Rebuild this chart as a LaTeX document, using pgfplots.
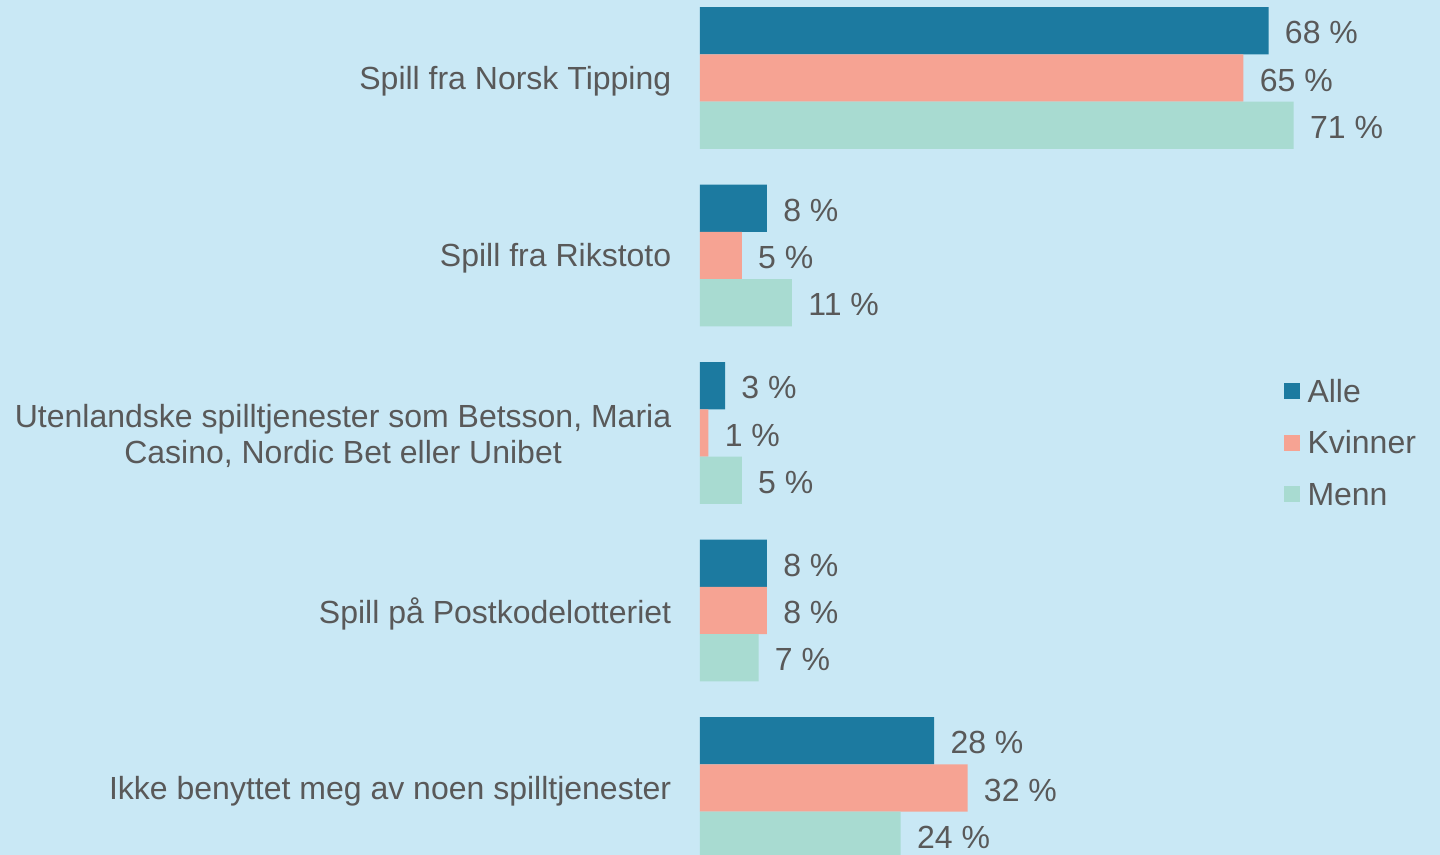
\documentclass[border=0pt]{standalone}
\usepackage{pgfplots}
\pgfplotsset{compat=1.18}
\usepackage{fontspec}
\setmainfont{Liberation Sans}
\definecolor{bgc}{HTML}{C9E8F5}
\definecolor{alle}{HTML}{1C7AA0}
\definecolor{kvinner}{HTML}{F6A393}
\definecolor{menn}{HTML}{A8DBD1}
\definecolor{txt}{HTML}{595959}

\begin{document}
\begin{tikzpicture}
\fill[bgc] (-350pt,0) rectangle (370pt,427.5pt);
\begin{axis}[
  at={(0,0)}, anchor=south west,
  scale only axis, width=370pt, height=427.5pt,
  xbar, xmin=0, xmax=88.5,
  ymin=-0.4394, ymax=4.3775, y dir=reverse,
  clip=true,
  axis line style={draw=none},
  xtick=\empty,
  ytick={0,1,2,3,4},
  yticklabels={Spill fra Norsk Tipping, Spill fra Rikstoto, {Utenlandske spilltjenester som Betsson, Maria\\Casino, Nordic Bet eller Unibet}, Spill på Postkodelotteriet, Ikke benyttet meg av noen spilltjenester},
  major tick length=0pt,
  yticklabel style={align=center, font=\fontsize{16}{18}\selectfont, text=txt, inner sep=0pt, xshift=-14.2pt, yshift=-1.5pt},
  bar width=0.2665,
  /pgf/number format/assume math mode=true,
  nodes near coords={\pgfmathprintnumber{\pgfplotspointmeta} \%},
  nodes near coords style={font=\fontsize{16}{18}\selectfont, text=txt, anchor=west, inner sep=0pt, xshift=8pt, yshift=-1pt},
  legend style={draw=none, fill=none, at={(axis description cs:0.788,0.5568)}, anchor=north west, font=\fontsize{16}{18}\selectfont, text=txt, inner sep=0pt, row sep=14.25pt, nodes={inner sep=0pt, text height=11.5pt, text depth=0pt}, column sep=4pt},
  legend cell align=left,
  legend image code/.code={\fill[#1,draw=none] (0pt,-4.2pt) rectangle (8pt,3.8pt);},
]
\addplot[fill=alle, draw=none, bar shift=-0.2665] coordinates {(68,0) (8,1) (3,2) (8,3) (28,4)};
\addplot[fill=kvinner, draw=none, bar shift=0] coordinates {(65,0) (5,1) (1,2) (8,3) (32,4)};
\addplot[fill=menn, draw=none, bar shift=0.2665] coordinates {(71,0) (11,1) (5,2) (7,3) (24,4)};
\legend{Alle, Kvinner, Menn}
\end{axis}
\pgfresetboundingbox
\path[use as bounding box] (-350pt,0) rectangle (370pt,427.5pt);
\end{tikzpicture}
\end{document}
